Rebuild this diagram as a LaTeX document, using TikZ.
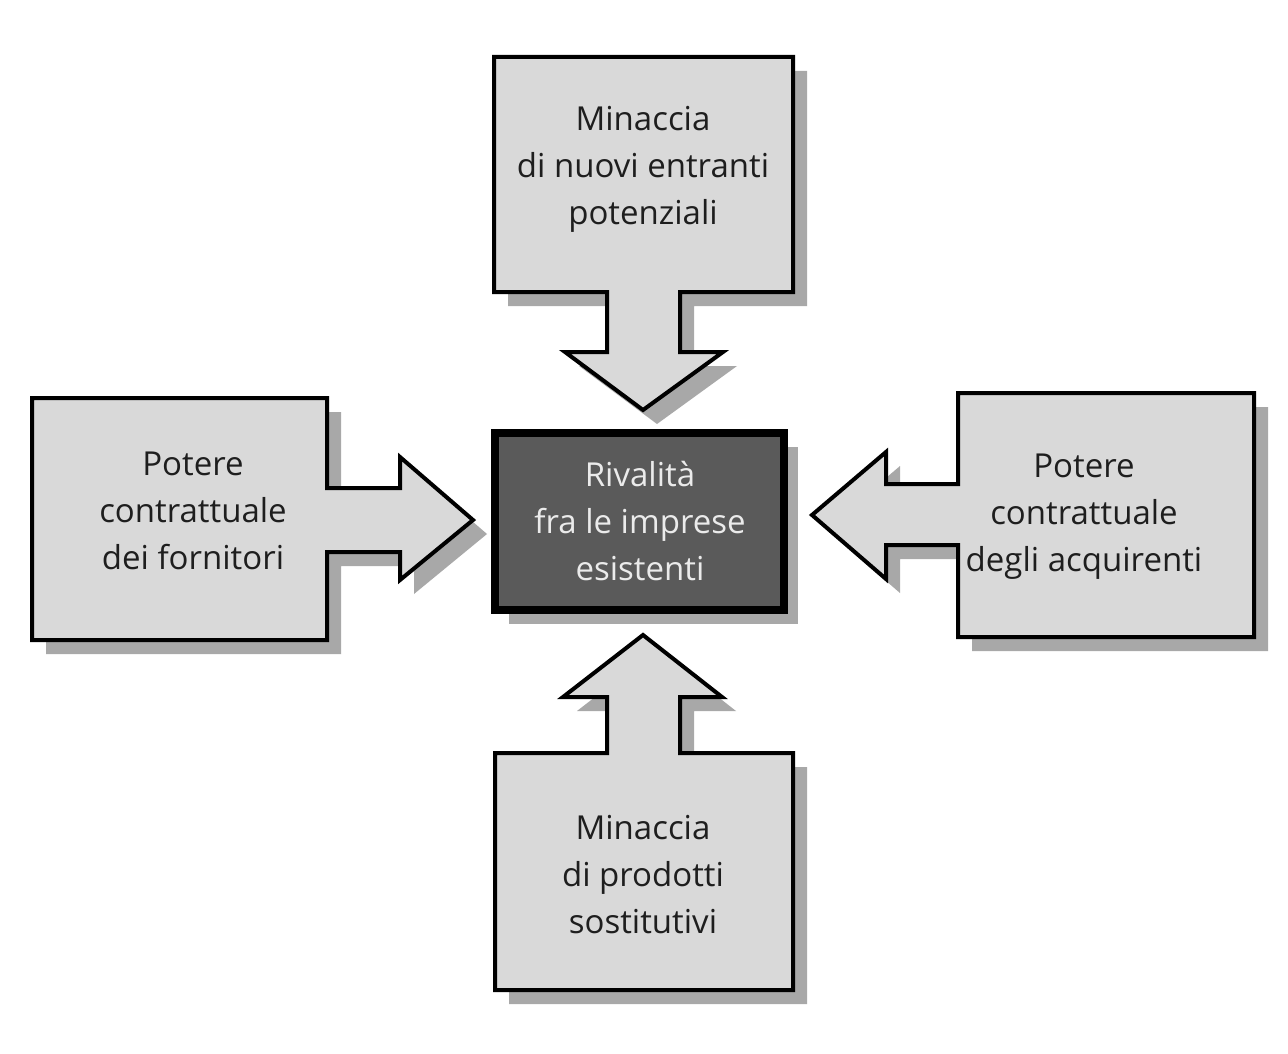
\documentclass[tikz,border=0pt]{standalone}
\usepackage{fontspec}
\setmainfont{Open Sans}
\definecolor{boxfill}{HTML}{D9D9D9}
\definecolor{cenfill}{HTML}{5A5A5A}
\definecolor{shadowc}{HTML}{A8A8A8}
\definecolor{txtc}{HTML}{1E1E1E}
\newcommand\pathTop{(494,57) -- (793,57) -- (793,292) -- (680,292) -- (680,352) -- (723,352) -- (643,410) -- (565,352) -- (607,352) -- (607,292) -- (494,292) -- cycle}
\newcommand\pathLeft{(32,398) -- (327,398) -- (327,488) -- (400,488) -- (400,457) -- (473,520) -- (400,580) -- (400,552) -- (327,552) -- (327,640) -- (32,640) -- cycle}
\newcommand\pathRight{(958,393) -- (1254,393) -- (1254,637) -- (958,637) -- (958,545) -- (886,545) -- (886,579) -- (812,515) -- (886,452) -- (886,484) -- (958,484) -- cycle}
\newcommand\pathBot{(495,753) -- (607,753) -- (607,697) -- (563,697) -- (643,635) -- (722,697) -- (680,697) -- (680,753) -- (793,753) -- (793,990) -- (495,990) -- cycle}
\newcommand\pathCen{(495,433) rectangle (784,610)}
\tikzset{
  shapebox/.style={draw=black, fill=boxfill, line width=4pt, line join=miter},
  cenbox/.style={draw=black, fill=cenfill, line width=8pt, line join=miter},
  shadowbox/.style={fill=shadowc},
  lbl/.style={align=center, text=txtc, inner sep=0pt, font=\fontsize{33}{47}\selectfont},
  cenlbl/.style={lbl, text=white!92!black}
}
\begin{document}
\begin{tikzpicture}[x=1pt,y=-1pt]
\useasboundingbox (0,0) rectangle (1288,1054);
\fill[white] (0,0) rectangle (1288,1054);
% shadows
\begin{scope}[shift={(14,14)}]
  \fill[shadowbox] \pathTop;
  \fill[shadowbox] \pathLeft;
  \fill[shadowbox] \pathRight;
  \fill[shadowbox] \pathBot;
  \fill[shadowbox] \pathCen;
\end{scope}
% shapes
\draw[shapebox] \pathTop;
\draw[shapebox] \pathLeft;
\draw[shapebox] \pathRight;
\draw[shapebox] \pathBot;
\draw[cenbox] \pathCen;
% labels
\node[lbl] (ntop) at (643,169) {Minaccia\\di nuovi entranti\\potenziali};
\node[lbl] (nleft) at (193,511) {Potere\\contrattuale\\dei fornitori};
\node[lbl] (nright) at (1084,517) {Potere\\contrattuale\\degli acquirenti};
\node[lbl] (nbot) at (643,875) {Minaccia\\di prodotti\\sostitutivi};
\node[cenlbl] (ncen) at (640,521) {Rivalità\\fra le imprese\\esistenti};
\end{tikzpicture}
\end{document}
